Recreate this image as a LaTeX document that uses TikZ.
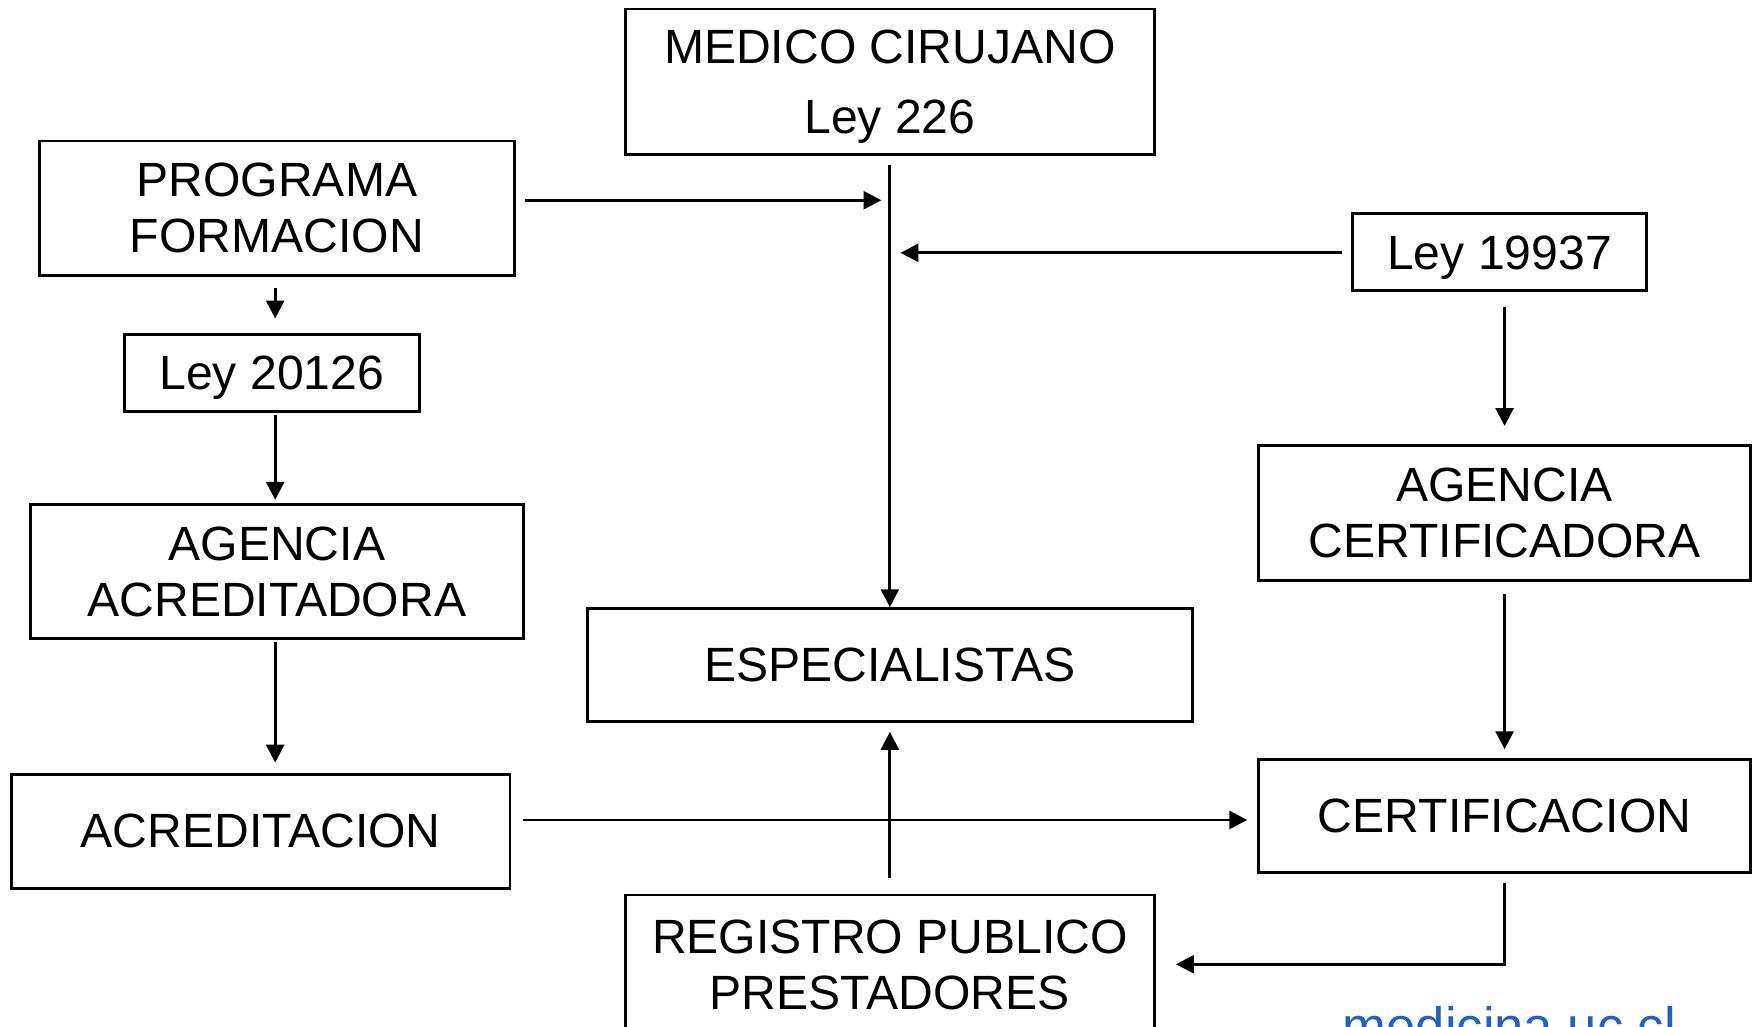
\documentclass[tikz,border=0pt]{standalone}
\usepackage{fontspec}
\setmainfont{Liberation Sans}
\usetikzlibrary{arrows.meta}
\definecolor{ucblue}{RGB}{32,96,200}
\begin{document}
\begin{tikzpicture}[x=0.5pt,y=-0.5pt,
  box/.style={draw=black,line width=1.25pt,align=center,inner sep=0pt,text depth=0pt,
    font=\fontsize{21.5pt}{25pt}\selectfont},
  arr/.style={line width=1.25pt,-{Triangle[length=8pt,width=8pt]}},
  ln/.style={line width=1.25pt}]
\clip (0,0) rectangle (1568,918);
\fill[white] (0,0) rectangle (1568,918);
% boxes
\node[box,minimum width=236.5pt,minimum height=65pt] (med) at (795.5,73) {MEDICO CIRUJANO\\[6pt]Ley 226};
\node[box,minimum width=212.5pt,minimum height=60pt] (prog) at (247.5,186) {PROGRAMA\\FORMACION};
\node[box,minimum width=131.5pt,minimum height=34.5pt] (l19937) at (1340.5,225.5) {Ley 19937};
\node[box,minimum width=132pt,minimum height=34.5pt] (l20126) at (243,333.5) {Ley 20126};
\node[box,minimum width=220.5pt,minimum height=60pt] (acr) at (247.5,511) {AGENCIA\\ACREDITADORA};
\node[box,minimum width=220pt,minimum height=60.5pt] (agc) at (1345,458.5) {AGENCIA\\CERTIFICADORA};
\node[box,minimum width=270.5pt,minimum height=50.5pt] (esp) at (795.5,594.5) {ESPECIALISTAS};
\node[box,minimum width=223pt,minimum height=51pt] (acred) at (233,743) {ACREDITACION};
\node[box,minimum width=220pt,minimum height=50.5pt] (certif) at (1345,729.5) {CERTIFICACION};
\node[box,minimum width=236.5pt,minimum height=62pt] (reg) at (795.5,862) {REGISTRO PUBLICO\\PRESTADORES};
\node[anchor=base west,inner sep=0pt,text=ucblue,font=\fontsize{23.5pt}{28pt}\selectfont] (web) at (1200,934) {medicina.uc.cl};
% helper coordinates
\coordinate (pin) at (788,179);
\coordinate (lin) at (805,226);
\coordinate (acy) at (1115,733);
\coordinate (rc) at (1345,862);
\coordinate (lx) at (246,0);
% connectors
\draw[arr,shorten <=4pt] (med.south) -- (esp.north);
\draw[arr,shorten <=4pt] (prog.east |- pin) -- (pin);
\draw[arr,shorten <=4pt] (l19937.west |- lin) -- (lin);
\draw[arr,shorten <=6.5pt,shorten >=8pt] (l19937.south -| agc.north) -- (agc.north);
\draw[arr,shorten <=5.5pt,shorten >=4pt] (agc.south) -- (certif.north);
\draw[arr,shorten <=4pt,shorten >=9pt] (certif.south) -- (rc) -- (reg.east |- rc);
\draw[arr,shorten <=7pt,shorten >=4pt] (reg.north) -- (esp.south);
\draw[arr,shorten <=5pt,shorten >=6.5pt] (prog.south -| lx) -- (l20126.north -| lx);
\draw[arr,shorten <=1pt,shorten >=1.5pt] (l20126.south -| lx) -- (acr.north -| lx);
\draw[arr,shorten <=1pt,shorten >=4.5pt] (acr.south -| lx) -- (acred.north -| lx);
\draw[arr,shorten <=5pt] (acred.east |- acy) -- (acy);
\end{tikzpicture}
\end{document}
